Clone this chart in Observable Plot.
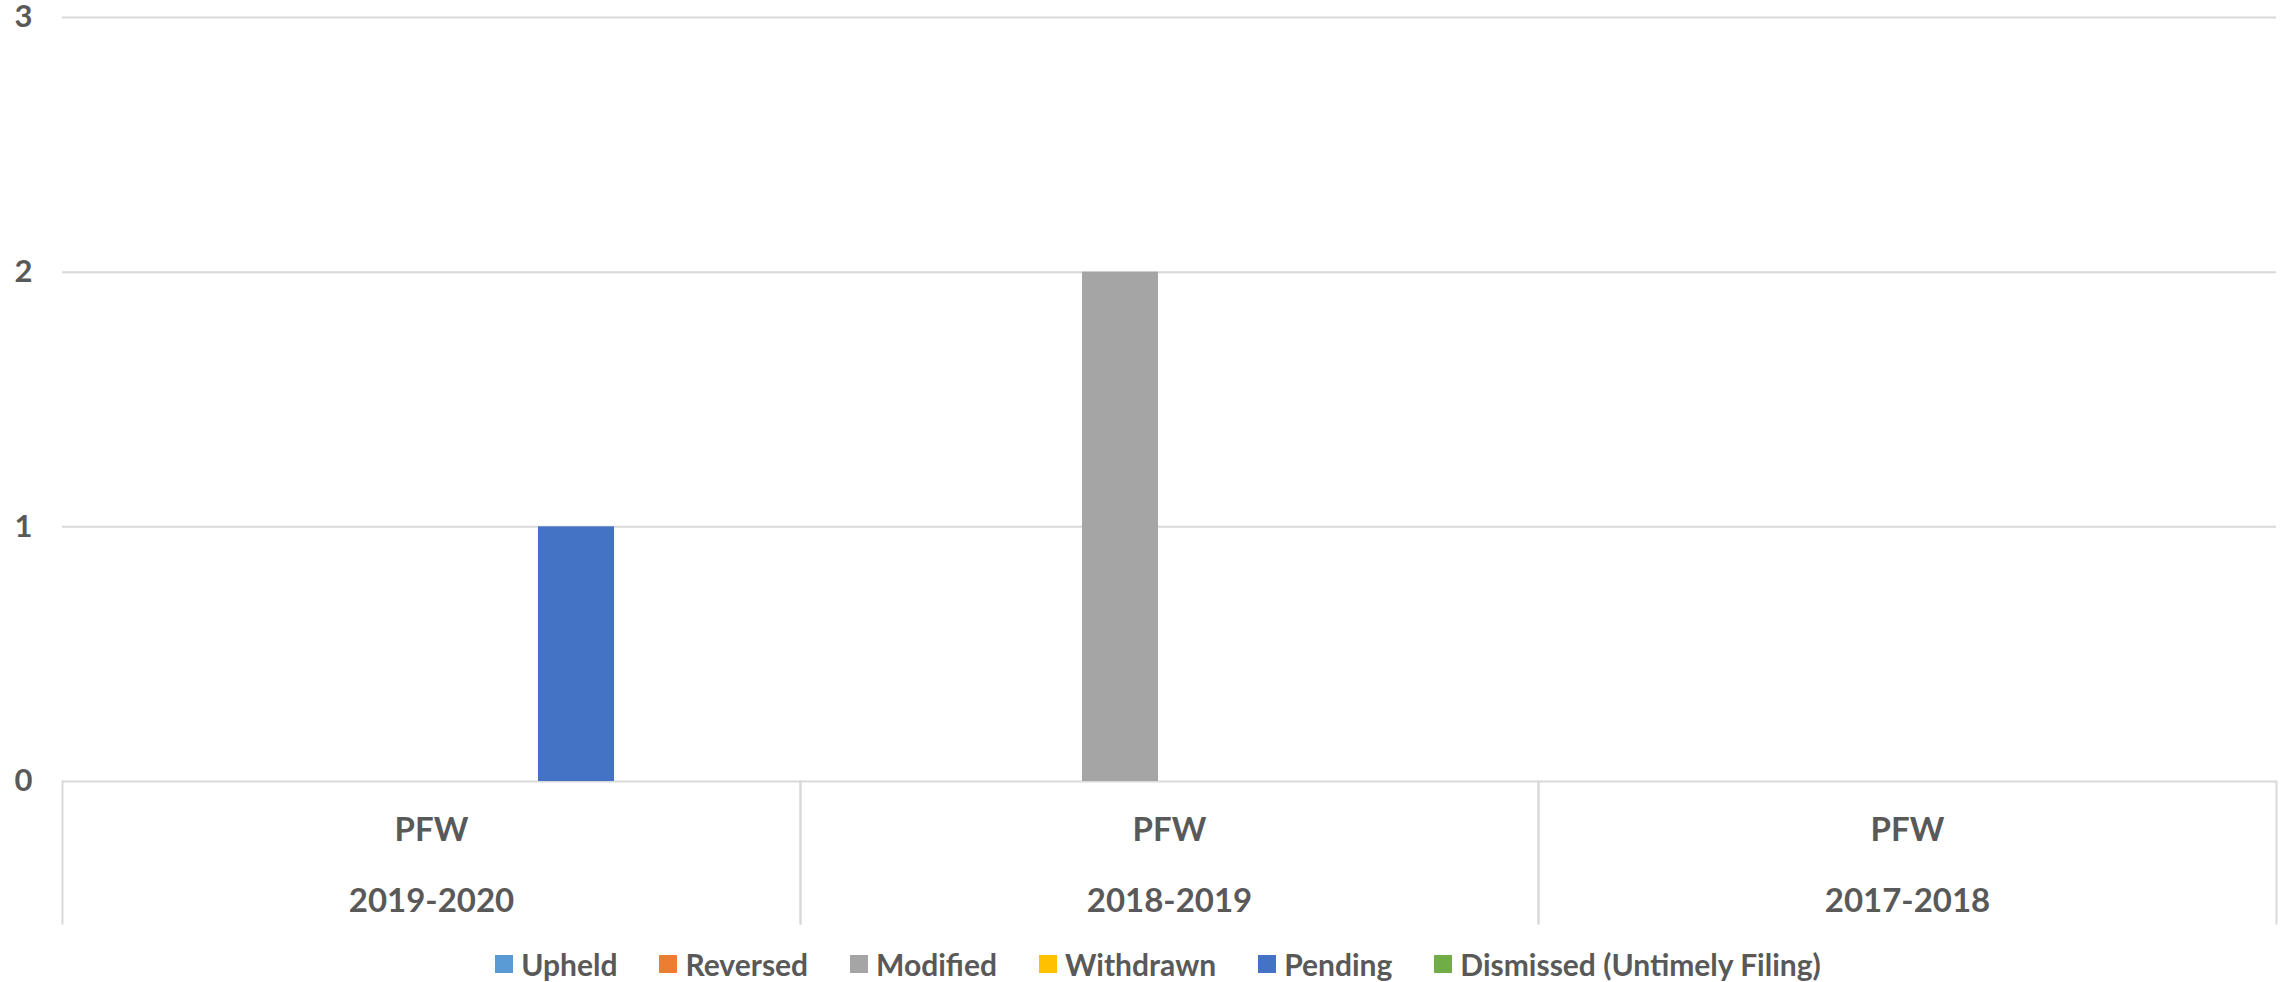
<!DOCTYPE html>
<html>
<head>
<meta charset="utf-8">
<script src="https://cdn.jsdelivr.net/npm/d3@7"></script>
<script src="https://cdn.jsdelivr.net/npm/@observablehq/plot@0.6"></script>
<style>
  html, body { margin: 0; padding: 0; background: #ffffff; }
  #chart svg { display: block; }
  .legend { display: flex; justify-content: center; align-items: center; height: 48px; padding-left: 26px;
            font-family: Lato, "Open Sans", sans-serif; font-weight: bold; font-size: 30px; color: #595959; }
  .legend .item { display: flex; align-items: center; margin-right: 42px; }
  .legend .item:last-child { margin-right: 0; }
  .legend .sw { width: 18px; height: 18px; margin-right: 8px; display: inline-block; }
</style>
</head>
<body>
<div id="chart"></div>
<div class="legend" id="legend"></div>
<script>
// ---- data ----
const categories = ["2019-2020", "2018-2019", "2017-2018"];
const groupLabel = "PFW";
const series = ["Upheld", "Reversed", "Modified", "Withdrawn", "Pending", "Dismissed (Untimely Filing)"];
const upheld    = [0, 0, 0];
const reversed  = [0, 0, 0];
const modified  = [0, 2, 0];
const withdrawn = [0, 0, 0];
const pending   = [1, 0, 0];
const dismissed = [0, 0, 0];
const colors = ["#5b9bd5", "#ed7d31", "#a5a5a5", "#ffc000", "#4472c4", "#70ad47"];
const yTicks = [0, 1, 2, 3];

const valuesBySeries = [upheld, reversed, modified, withdrawn, pending, dismissed];
const rows = [];
categories.forEach((c, i) => {
  series.forEach((s, j) => {
    rows.push({category: c, series: s, value: valuesBySeries[j][i]});
  });
});

const textColor = "#595959";
const gridColor = "#d9d9d9";
const labelSize = 33;

const chart = Plot.plot({
  width: 2290,
  height: 940,
  marginTop: 17,
  marginBottom: 159,
  marginLeft: 61,
  marginRight: 14,
  style: {fontFamily: "Lato, 'Open Sans', sans-serif", fontSize: "30px", fontWeight: "bold", color: textColor, background: "#ffffff"},
  fx: {domain: categories, padding: 0, axis: null, label: null},
  x: {domain: series, paddingInner: 0.212, paddingOuter: 0.881, axis: null, label: null},
  y: {domain: [0, 3], axis: null, label: null},
  color: {domain: series, range: colors},
  marks: [
    Plot.gridY(yTicks, {stroke: gridColor, strokeOpacity: 1, strokeWidth: 2}),
    Plot.frame({anchor: "left", stroke: gridColor, strokeWidth: 2, insetTop: 764, insetBottom: -142}),
    Plot.frame({anchor: "right", stroke: gridColor, strokeWidth: 2, insetTop: 764, insetBottom: -142}),
    Plot.barY(rows.filter(d => d.value > 0), {fx: "category", x: "series", y: "value", fill: "series"}),
    Plot.axisY(yTicks, {tickSize: 0, tickPadding: 30, label: null, fill: textColor, fontSize: 31, fontWeight: "bold", tickFormat: d => String(d)}),
    Plot.text(categories, {fx: d => d, text: () => groupLabel, frameAnchor: "bottom", dy: 59, fill: textColor, fontSize: labelSize, fontWeight: "bold"}),
    Plot.text(categories, {fx: d => d, text: d => d, frameAnchor: "bottom", dy: 130, fill: textColor, fontSize: labelSize, fontWeight: "bold"})
  ]
});
document.getElementById("chart").appendChild(chart);

const legend = document.getElementById("legend");
series.forEach((s, i) => {
  const item = document.createElement("div");
  item.className = "item";
  const sw = document.createElement("span");
  sw.className = "sw";
  sw.style.background = colors[i];
  const t = document.createElement("span");
  t.textContent = s;
  item.appendChild(sw);
  item.appendChild(t);
  legend.appendChild(item);
});
</script>
</body>
</html>
